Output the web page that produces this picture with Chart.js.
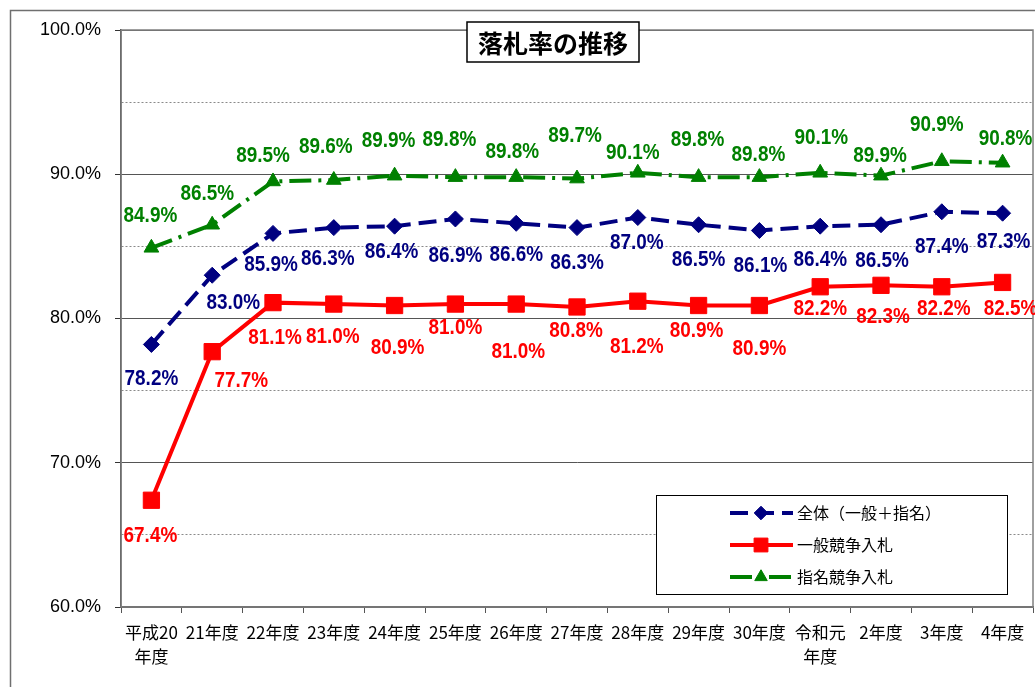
<!DOCTYPE html>
<html><head><meta charset="utf-8">
<script src="https://cdn.jsdelivr.net/npm/chart.js@4.4.1/dist/chart.umd.min.js"></script>
<style>html,body{margin:0;padding:0;background:#fff;} canvas{display:block;}</style>
</head><body>
<canvas id="c" width="1035" height="687"></canvas>
<script>
// ---- data ----
const categories = [["平成20","年度"],"21年度","22年度","23年度","24年度","25年度","26年度","27年度","28年度","29年度","30年度",["令和元","年度"],"2年度","3年度","4年度"];
const seriesNames = ["全体（一般＋指名）","一般競争入札","指名競争入札"];
const zentai = [78.2,83.0,85.9,86.3,86.4,86.9,86.6,86.3,87.0,86.5,86.1,86.4,86.5,87.4,87.3];
const ippan  = [67.4,77.7,81.1,81.0,80.9,81.0,81.0,80.8,81.2,80.9,80.9,82.2,82.3,82.2,82.5];
const shimei = [84.9,86.5,89.5,89.6,89.9,89.8,89.8,89.7,90.1,89.8,89.8,90.1,89.9,90.9,90.8];
const yMin = 60, yMax = 100, yStep = 5, yLabelStep = 10;
const titleText = "落札率の推移";

// label nudges (data-label placement, as hand-placed in the original)
const labelNudge = {
  zentai: {dx:[0,21,-2,-6,-3,0,0,0,-1,0,1,0,1,0,1], dy:[34,28,32,31,26,37,32,35,25,35,35,34,36,35,29]},
  ippan:  {dx:[-1,29,2,-1,3,0,2,-1,-1,-2,0,0,2,2,8], dy:[36,29,35,33,42,24,48,24,46,25,43,22,32,22,26]},
  shimei: {dx:[-1,-5,-10,-8,-6,-6,-4,-2,-5,-1,-1,1,-1,-5,3], dy:[-32,-31,-26,-33,-35,-37,-25,-43,-20,-37,-22,-35,-20,-36,-24]}
};

const NAVY = '#000080', RED = '#ff0000', GREEN = '#008000';
const LABEL_FONT = "bold 22px 'Liberation Sans', Arial, sans-serif";
const LABEL_SCALE_X = 0.86;
const CJK = "'Noto Sans CJK JP', sans-serif";

const datasets = [
  {key:'zentai', label: seriesNames[0], data: zentai, borderColor: NAVY, backgroundColor: NAVY,
   borderWidth: 4, borderDash:[18,8], pointStyle:'rectRot', pointRadius:8, pointBorderColor:NAVY, pointBackgroundColor:NAVY, pointBorderWidth:1},
  {key:'ippan', label: seriesNames[1], data: ippan, borderColor: RED, backgroundColor: RED,
   borderWidth: 4, borderDash:[], pointStyle:'rect', pointRadius:11.5, pointBorderColor:RED, pointBackgroundColor:RED, pointBorderWidth:1},
  {key:'shimei', label: seriesNames[2], data: shimei, borderColor: GREEN, backgroundColor: GREEN,
   borderWidth: 4, borderDash:[22,7,3,7], pointStyle:'triangle', pointRadius:8.5, pointBorderColor:GREEN, pointBackgroundColor:GREEN, pointBorderWidth:1}
];
datasets.forEach(d => { d.tension = 0; d.fill = false; d.borderCapStyle = 'butt'; d.clip = false; });

const framePlugin = {
  id: 'frame',
  beforeDraw(chart) {
    const ctx = chart.ctx;
    ctx.save();
    ctx.fillStyle = '#fff';
    ctx.fillRect(0, 0, chart.width, chart.height);
    ctx.strokeStyle = '#6f6f6f';
    ctx.lineWidth = 1.5;
    ctx.strokeRect(10.5, 10.5, 1100, 1100);
    ctx.restore();
  },
  beforeDatasetsDraw(chart) {
    const a = chart.chartArea, ctx = chart.ctx;
    ctx.save();
    ctx.strokeStyle = '#808080';
    ctx.lineWidth = 1.5;
    ctx.strokeRect(a.left, a.top, a.right - a.left, a.bottom - a.top);
    ctx.restore();
  }
};

const labelPlugin = {
  id: 'dataLabels',
  afterDatasetsDraw(chart) {
    const ctx = chart.ctx;
    chart.data.datasets.forEach((ds, di) => {
      const meta = chart.getDatasetMeta(di);
      const nudge = labelNudge[ds.key];
      meta.data.forEach((el, i) => {
        ctx.save();
        ctx.font = LABEL_FONT;
        ctx.textAlign = 'center';
        ctx.textBaseline = 'middle';
        ctx.fillStyle = ds.borderColor;
        ctx.translate(el.x + nudge.dx[i], el.y + nudge.dy[i]);
        ctx.scale(LABEL_SCALE_X, 1);
        ctx.fillText(ds.data[i].toFixed(1) + '%', 0, 0);
        ctx.restore();
      });
    });
  }
};

const titleLegendPlugin = {
  id: 'titleLegend',
  afterDraw(chart) {
    const ctx = chart.ctx;
    ctx.save();
    // title box
    ctx.font = "bold 25px " + CJK;
    const tw = ctx.measureText(titleText).width;
    const cx = 553, cy = 42;
    ctx.fillStyle = '#fff';
    ctx.fillRect(cx - tw/2 - 11, 22, tw + 22, 40);
    ctx.strokeStyle = '#000';
    ctx.lineWidth = 1.5;
    ctx.strokeRect(cx - tw/2 - 11, 22, tw + 22, 40);
    ctx.fillStyle = '#000';
    ctx.textAlign = 'center';
    ctx.textBaseline = 'middle';
    ctx.fillText(titleText, cx, cy + 1);

    // legend box
    const lx = 656, ly = 495, lw = 351, lh = 99;
    ctx.fillStyle = '#fff';
    ctx.fillRect(lx, ly, lw, lh);
    ctx.strokeStyle = '#000';
    ctx.lineWidth = 1;
    ctx.strokeRect(lx + 0.5, ly + 0.5, lw, lh);
    chart.data.datasets.forEach((ds, i) => {
      const y = 513 + i * 32;
      ctx.save();
      ctx.strokeStyle = ds.borderColor;
      ctx.lineWidth = ds.borderWidth;
      ctx.setLineDash(ds.borderDash || []);
      ctx.beginPath();
      ctx.moveTo(730, y);
      ctx.lineTo(793, y);
      ctx.stroke();
      ctx.setLineDash([]);
      ctx.fillStyle = ds.pointBackgroundColor;
      ctx.strokeStyle = ds.pointBorderColor;
      ctx.lineWidth = 1;
      Chart.helpers.drawPoint(ctx, {pointStyle: ds.pointStyle, radius: ds.pointRadius * 0.85, rotation: 0, borderWidth: 1}, 761, y);
      ctx.restore();
      ctx.fillStyle = '#000';
      ctx.font = "16px " + CJK;
      ctx.textAlign = 'left';
      ctx.textBaseline = 'middle';
      ctx.fillText(ds.label, 797, y);
    });
    ctx.restore();
  }
};

new Chart(document.getElementById('c'), {
  type: 'line',
  data: { labels: categories, datasets },
  options: {
    responsive: false,
    animation: false,
    devicePixelRatio: 1,
    layout: { autoPadding: false, padding: { top: 30, right: 2, left: 0, bottom: 0 } },
    plugins: { legend: { display: false }, tooltip: { enabled: false }, title: { display: false } },
    scales: {
      y: {
        min: yMin, max: yMax,
        ticks: {
          stepSize: yStep,
          color: '#000',
          font: { family: "'Liberation Sans', Arial, sans-serif", size: 18 },
          padding: 14,
          callback: v => (v % yLabelStep === 0 ? v.toFixed(1) + '%' : '')
        },
        grid: {
          color: c => (c.tick && c.tick.value % yLabelStep === 0 ? '#555' : '#8a8a8a'),
          lineWidth: 1,
          tickLength: 6,
          tickColor: c => (c.tick && c.tick.value % yLabelStep === 0 ? '#333' : 'rgba(0,0,0,0)')
        },
        border: {
          display: true, color: '#333', width: 1.5,
          dash: c => (c.tick && c.tick.value % yLabelStep !== 0 ? [2, 2] : [])
        },
        afterFit: s => { s.width = 121; s.paddingTop = 0; s.paddingBottom = 0; }
      },
      x: {
        type: 'category',
        offset: true,
        ticks: {
          color: '#000',
          font: { family: CJK, size: 17, lineHeight: 1.4 },
          maxRotation: 0, autoSkip: false, padding: 8
        },
        grid: { offset: true, drawOnChartArea: false, drawTicks: true, tickLength: 6, tickColor: '#555' },
        border: { display: true, color: '#555', width: 1.5 },
        afterFit: s => { s.height = 80; s.paddingLeft = 0; s.paddingRight = 0; }
      }
    }
  },
  plugins: [framePlugin, labelPlugin, titleLegendPlugin]
});
</script>
</body></html>
